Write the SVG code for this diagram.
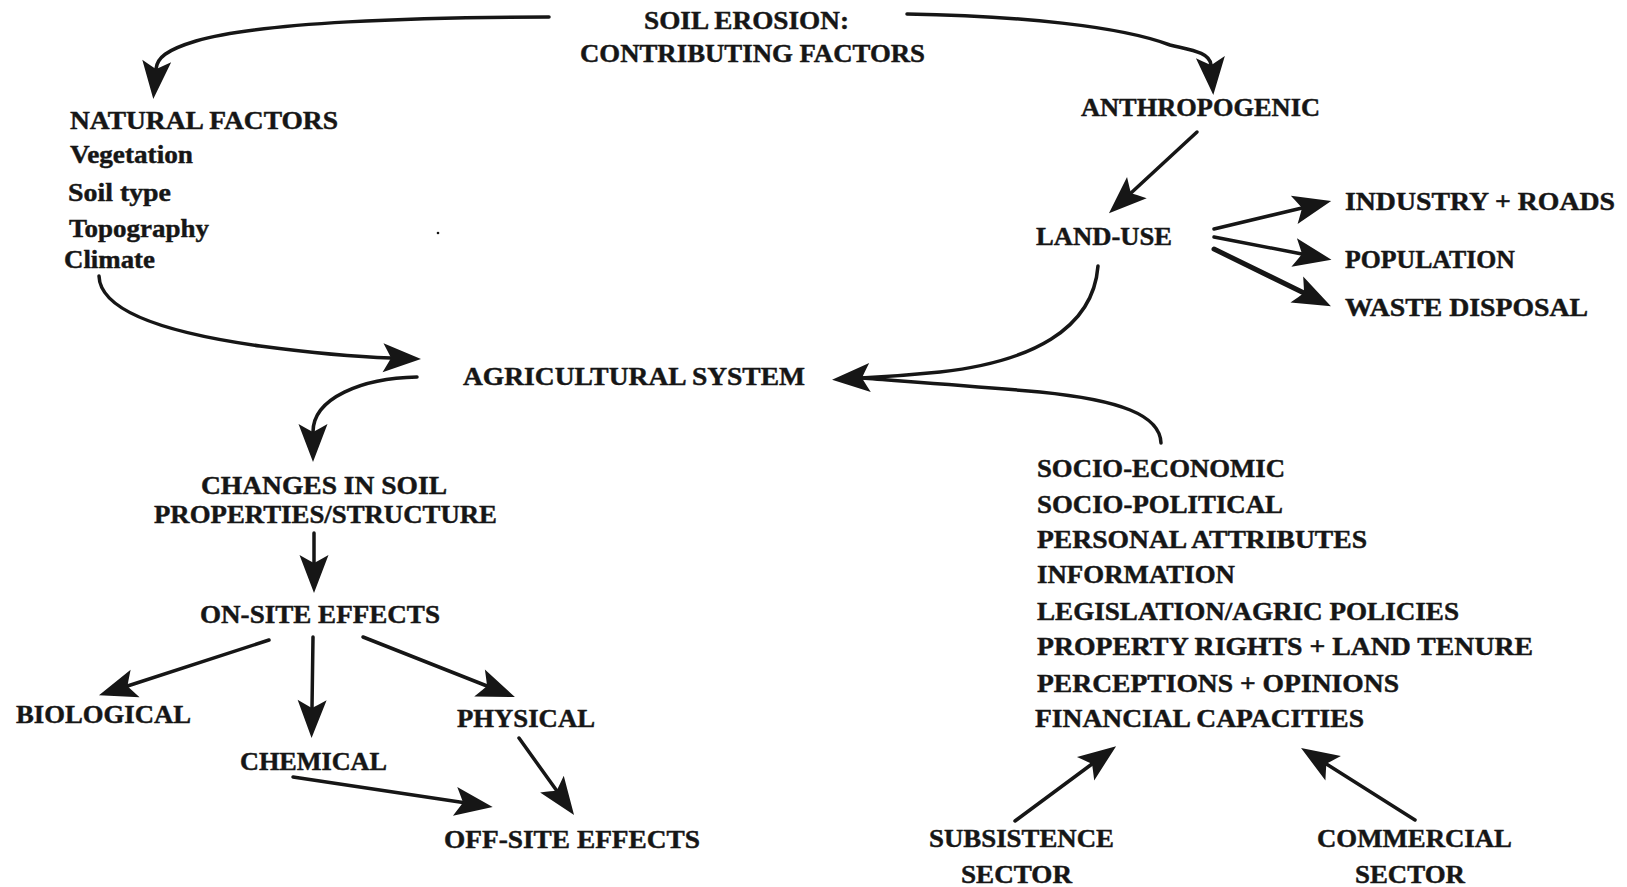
<svg xmlns="http://www.w3.org/2000/svg" width="1627" height="887" viewBox="0 0 1627 887">
<style>
text{font-family:"Liberation Serif","Times New Roman",serif;font-weight:bold;font-size:26px;fill:#161616;stroke:#161616;stroke-width:0.45}
.c{fill:none;stroke:#161616;stroke-width:3.5;stroke-linecap:round}
.t{stroke-width:5}
</style>
<defs>
<marker id="a" viewBox="-10 -16 44 32" refX="0" refY="0" markerWidth="44" markerHeight="32" markerUnits="userSpaceOnUse" orient="auto">
<path d="M30,0 L-8,-14.5 Q-2,-4 0,0 Q-2,4 -8,14.5 Z" fill="#161616"/>
</marker>
</defs>
<g id="connectors">
<path class="c" d="M549,17 C420,17 260,22 196,41 C166,50 157,58 156,69" marker-end="url(#a)"/>
<path class="c" d="M907,14 C1020,16 1120,26 1170,45 C1190,50 1210,52 1211,65" marker-end="url(#a)"/>
<path class="c" d="M1197,132 L1131,193" marker-end="url(#a)"/>
<path class="c" d="M1214,229 L1302,208" marker-end="url(#a)"/>
<path class="c" d="M1214,237 L1302,254" marker-end="url(#a)"/>
<path class="c t" d="M1214,249 L1304,293" marker-end="url(#a)"/>
<path class="c" d="M99,276 C100,310 160,332 260,346 C320,354 360,357 391,358" marker-end="url(#a)"/>
<path class="c" d="M1098,266 C1093,330 1030,362 940,372 C900,376 880,377 862,378" marker-end="url(#a)"/>
<path class="c" d="M1161,443 C1160,415 1120,400 1040,392 C960,385 900,381 862,378"/>
<path class="c" d="M417,377 C362,378 313,398 313,432" marker-end="url(#a)"/>
<path class="c" d="M314,533 L314,563" marker-end="url(#a)"/>
<path class="c" d="M269,640 L127.5,686" marker-end="url(#a)"/>
<path class="c" d="M313,637 L312,708" marker-end="url(#a)"/>
<path class="c" d="M363,637 L487,686" marker-end="url(#a)"/>
<path class="c" d="M293,777 L463,802.5" marker-end="url(#a)"/>
<path class="c" d="M519,738 L556.6,790.6" marker-end="url(#a)"/>
<path class="c" d="M1015,821 L1092,764" marker-end="url(#a)"/>
<path class="c" d="M1415,820 L1326.4,764" marker-end="url(#a)"/>
</g>
<g id="title"><text x="644" y="29" textLength="205" lengthAdjust="spacingAndGlyphs">SOIL EROSION:</text><text x="580" y="62" textLength="345" lengthAdjust="spacingAndGlyphs">CONTRIBUTING FACTORS</text></g>
<g id="natural">
<text x="70" y="129" textLength="268" lengthAdjust="spacingAndGlyphs">NATURAL FACTORS</text>
<text x="70" y="163" textLength="123" lengthAdjust="spacingAndGlyphs">Vegetation</text>
<text x="68" y="201" textLength="103" lengthAdjust="spacingAndGlyphs">Soil type</text>
<text x="69" y="237" textLength="140" lengthAdjust="spacingAndGlyphs">Topography</text>
<text x="64" y="268" textLength="91" lengthAdjust="spacingAndGlyphs">Climate</text>
</g>
<circle cx="438" cy="233" r="1.3" fill="#161616"/>
<g id="anthropogenic"><text x="1081" y="116" textLength="239" lengthAdjust="spacingAndGlyphs">ANTHROPOGENIC</text></g>
<g id="landuse"><text x="1036" y="245" textLength="136" lengthAdjust="spacingAndGlyphs">LAND-USE</text></g>
<g id="industry"><text x="1345" y="210" textLength="270" lengthAdjust="spacingAndGlyphs">INDUSTRY + ROADS</text></g>
<g id="population"><text x="1345" y="268" textLength="170" lengthAdjust="spacingAndGlyphs">POPULATION</text></g>
<g id="waste"><text x="1345" y="316" textLength="243" lengthAdjust="spacingAndGlyphs">WASTE DISPOSAL</text></g>
<g id="agricultural"><text x="463" y="385" textLength="342" lengthAdjust="spacingAndGlyphs">AGRICULTURAL SYSTEM</text></g>
<g id="changes"><text x="201" y="494" textLength="246" lengthAdjust="spacingAndGlyphs">CHANGES IN SOIL</text><text x="154" y="523" textLength="343" lengthAdjust="spacingAndGlyphs">PROPERTIES/STRUCTURE</text></g>
<g id="onsite"><text x="200" y="623" textLength="240" lengthAdjust="spacingAndGlyphs">ON-SITE EFFECTS</text></g>
<g id="biological"><text x="16" y="723" textLength="175" lengthAdjust="spacingAndGlyphs">BIOLOGICAL</text></g>
<g id="physical"><text x="457" y="727" textLength="138" lengthAdjust="spacingAndGlyphs">PHYSICAL</text></g>
<g id="chemical"><text x="240" y="770" textLength="147" lengthAdjust="spacingAndGlyphs">CHEMICAL</text></g>
<g id="offsite"><text x="444" y="848" textLength="256" lengthAdjust="spacingAndGlyphs">OFF-SITE EFFECTS</text></g>
<g id="socio">
<text x="1037" y="477" textLength="248" lengthAdjust="spacingAndGlyphs">SOCIO-ECONOMIC</text>
<text x="1037" y="513" textLength="246" lengthAdjust="spacingAndGlyphs">SOCIO-POLITICAL</text>
<text x="1037" y="548" textLength="330" lengthAdjust="spacingAndGlyphs">PERSONAL ATTRIBUTES</text>
<text x="1037" y="583" textLength="198" lengthAdjust="spacingAndGlyphs">INFORMATION</text>
<text x="1037" y="620" textLength="422" lengthAdjust="spacingAndGlyphs">LEGISLATION/AGRIC POLICIES</text>
<text x="1037" y="655" textLength="496" lengthAdjust="spacingAndGlyphs">PROPERTY RIGHTS + LAND TENURE</text>
<text x="1037" y="692" textLength="362" lengthAdjust="spacingAndGlyphs">PERCEPTIONS + OPINIONS</text>
<text x="1035" y="727" textLength="329" lengthAdjust="spacingAndGlyphs">FINANCIAL CAPACITIES</text>
</g>
<g id="subsistence"><text x="929" y="847" textLength="185" lengthAdjust="spacingAndGlyphs">SUBSISTENCE</text><text x="961" y="883" textLength="111" lengthAdjust="spacingAndGlyphs">SECTOR</text></g>
<g id="commercial"><text x="1317" y="847" textLength="195" lengthAdjust="spacingAndGlyphs">COMMERCIAL</text><text x="1355" y="883" textLength="110" lengthAdjust="spacingAndGlyphs">SECTOR</text></g>
</svg>
